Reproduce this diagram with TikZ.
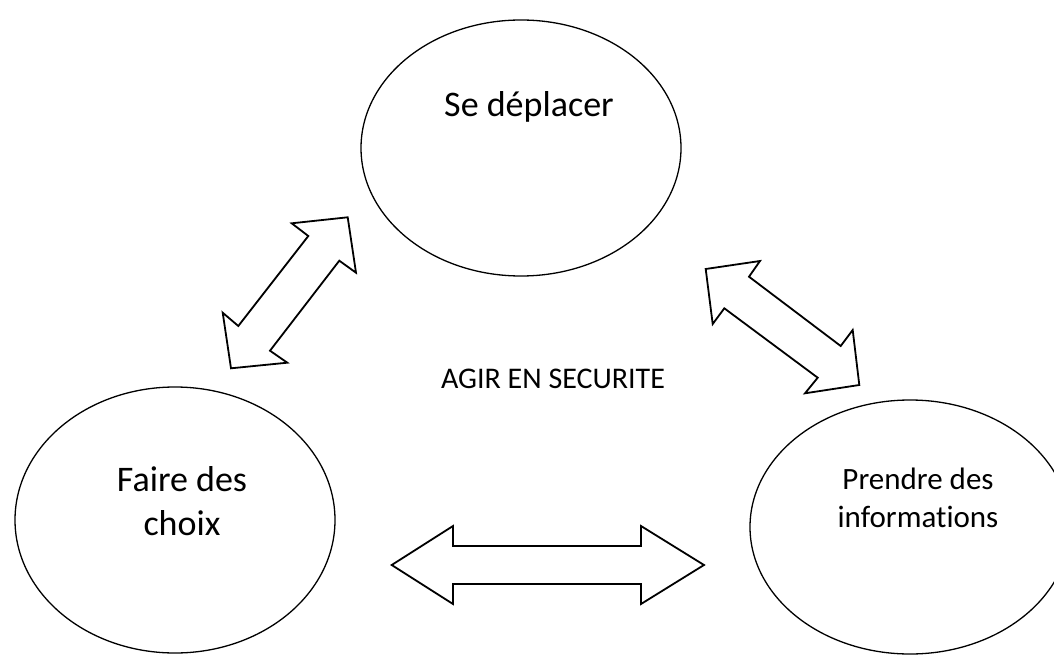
\documentclass[tikz,border=0pt]{standalone}
\usepackage{fontspec}
\setmainfont{Carlito}[Ligatures=NoCommon]
\usetikzlibrary{shapes.geometric}
\begin{document}
\begin{tikzpicture}[x=1pt,y=-1pt,
  bubble/.style={draw=black,line width=1.3pt,ellipse,inner sep=0pt,outer sep=0pt},
  blockarrow/.style={draw=black,line width=1.8pt,fill=white,line join=miter},
  bigtext/.style={font=\fontsize{36}{44}\selectfont,inner sep=0pt,anchor=base},
  midtext/.style={font=\fontsize{31}{38}\selectfont,inner sep=0pt,anchor=base},
  smalltext/.style={font=\fontsize{30}{36}\selectfont,inner sep=0pt,anchor=base}]
\useasboundingbox (0,0) rectangle (1054,655);
\clip (0,0) rectangle (1054,655);
\fill[white] (0,0) rectangle (1054,655);

% bubbles
\node[bubble,minimum width=320pt,minimum height=256pt] (top) at (521,148) {};
\node[bubble,minimum width=320pt,minimum height=266pt] (left) at (175,520) {};
\node[bubble,minimum width=320pt,minimum height=254pt] (right) at (910,527) {};

% texts
\node[bigtext] (ttop) at (529,117) {Se déplacer};
\node[bigtext] (tleft1) at (182,491) {Faire des};
\node[bigtext] (tleft2) at (182,535) {choix};
\node[midtext] (tright1) at (918,489) {Prendre des};
\node[midtext] (tright2) at (918,527) {informations};
\node[smalltext] (center) at (553,388) {AGIR EN SECURITE};

% double block arrows
\draw[blockarrow] (347.7,217.3) -- (356,272.7) -- (339.3,260.7) -- (270,350.7)
  -- (287.3,362.7) -- (231,368.3) -- (222.7,312.7) -- (238.3,326)
  -- (308.3,236) -- (291.7,223.3) -- cycle;
\draw[blockarrow] (705.7,269) -- (760,261) -- (749,276.7) -- (840.7,346)
  -- (852.7,330) -- (859.3,385) -- (805,393.3) -- (817.7,377.7)
  -- (724.3,308.3) -- (712.7,324) -- cycle;
\draw[blockarrow] (391.7,565) -- (453,526) -- (453,546) -- (641,546)
  -- (641,526) -- (704,565) -- (641,604) -- (641,584)
  -- (453,584) -- (453,604) -- cycle;
\end{tikzpicture}
\end{document}
